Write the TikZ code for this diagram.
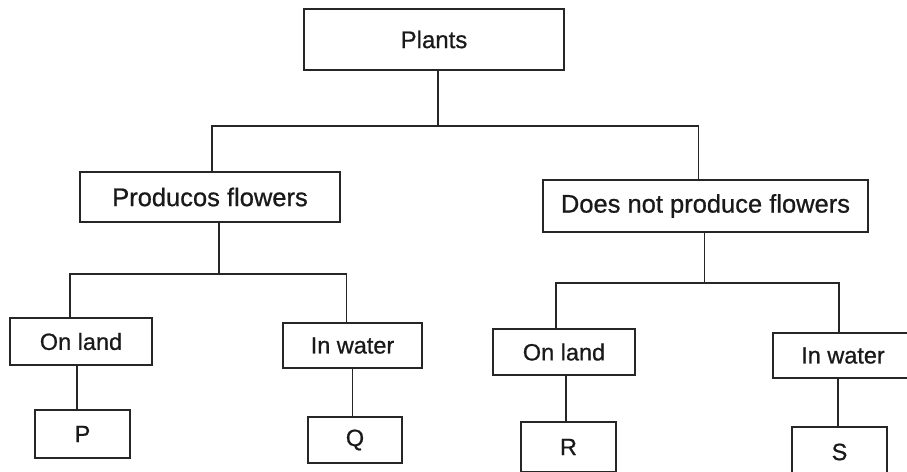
\documentclass[tikz,border=0pt]{standalone}
\usepackage{fontspec}
\setmainfont{Liberation Sans}[FakeBold=0.8]
\begin{document}
\begin{tikzpicture}[x=1pt, y=-1pt,
    box/.style={draw=black!85, line width=1.8pt, inner sep=0pt, text=black!90},
    link/.style={draw=black!85, line width=1.8pt}]
    \useasboundingbox (0,0) rectangle (907,471);

    % top level
    \node[box, minimum width=260, minimum height=61, font=\fontsize{24}{28}\selectfont] (plants) at (434,39.5) {Plants};

    % second level
    \node[box, minimum width=260, minimum height=50, font=\fontsize{25.5}{30}\selectfont] (prod) at (210,197) {Producos flowers};
    \node[box, minimum width=325, minimum height=52, font=\fontsize{25.5}{30}\selectfont] (noprod) at (705.5,206) {Does not produce flowers};

    % third level
    \node[box, minimum width=142, minimum height=47, font=\fontsize{23.5}{28}\selectfont] (land1) at (81,341.5) {On land};
    \node[box, minimum width=139, minimum height=45, font=\fontsize{23.5}{28}\selectfont] (water1) at (352.5,345.5) {In water};
    \node[box, minimum width=142, minimum height=46, font=\fontsize{23.5}{28}\selectfont] (land2) at (564,352) {On land};
    \node[box, minimum width=140, minimum height=45, font=\fontsize{23.5}{28}\selectfont] (water2) at (843,355.5) {In water};

    % leaves
    \node[box, minimum width=95, minimum height=48, font=\fontsize{23.5}{28}\selectfont] (p) at (82.5,434) {P};
    \node[box, minimum width=94, minimum height=46, font=\fontsize{23.5}{28}\selectfont] (q) at (355,440) {Q};
    \node[box, minimum width=95, minimum height=50, font=\fontsize{23.5}{28}\selectfont] (r) at (568.5,447) {R};
    \node[box, minimum width=95, minimum height=50, font=\fontsize{23.5}{28}\selectfont] (s) at (839.5,452) {S};

    % connectors
    \draw[link] ([xshift=4]plants.south) -- ++(0,55) coordinate (bar1);
    \draw[link] (bar1) -| ([xshift=2]prod.north);
    \draw[link] (bar1) -| ([xshift=-7]noprod.north);

    \draw[link] ([xshift=9]prod.south) -- ++(0,51) coordinate (bar2);
    \draw[link] (bar2) -| ([xshift=-11]land1.north);
    \draw[link] (bar2) -| ([xshift=-6]water1.north);

    \draw[link] ([xshift=-1]noprod.south) -- ++(0,50) coordinate (bar3);
    \draw[link] (bar3) -| ([xshift=-8]land2.north);
    \draw[link] (bar3) -| ([xshift=-4]water2.north);

    \draw[link] ([xshift=-4]land1.south) -- ([xshift=-4]land1.south |- p.north);
    \draw[link] (water1.south) -- (water1.south |- q.north);
    \draw[link] ([xshift=2]land2.south) -- ([xshift=2]land2.south |- r.north);
    \draw[link] ([xshift=-5]water2.south) -- ([xshift=-5]water2.south |- s.north);
\end{tikzpicture}
\end{document}
